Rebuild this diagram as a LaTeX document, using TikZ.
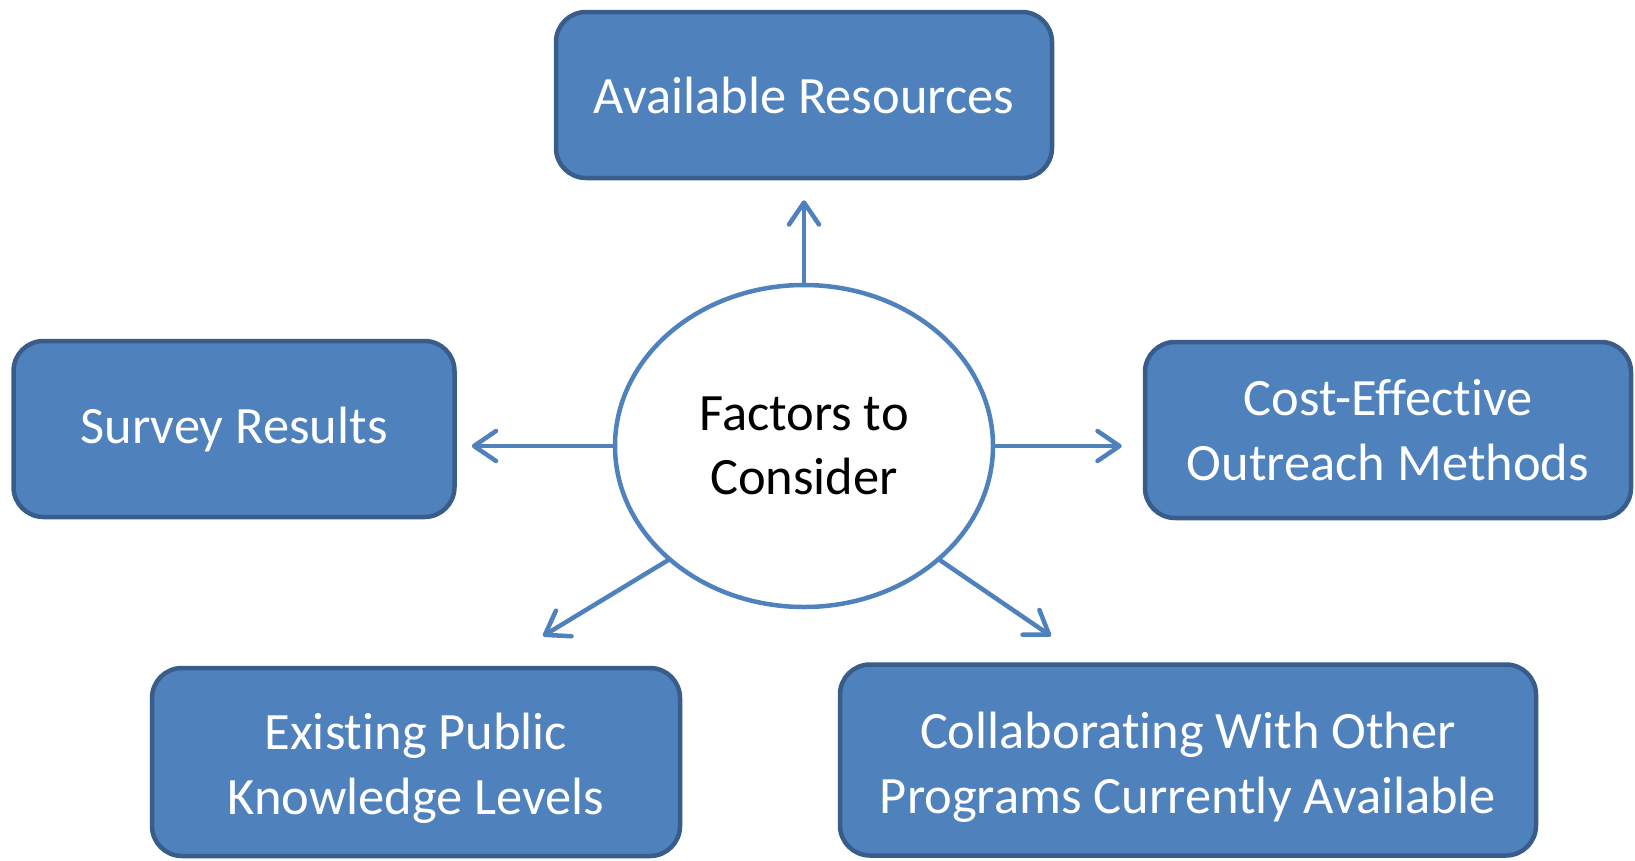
\documentclass[tikz,border=0pt]{standalone}
\usepackage{fontspec}
\setmainfont{Carlito}[Ligatures={NoCommon,NoRequired,NoContextual}, RawFeature={-liga;-clig;-calt;-rlig}]
\usetikzlibrary{shapes.geometric,arrows.meta}
\definecolor{boxfill}{HTML}{4F81BD}
\definecolor{boxline}{HTML}{385D8A}
\newcommand{\twolines}[3]{\raisebox{#1}[\height][\depth]{\begin{tabular}{@{}c@{}}#2\\#3\end{tabular}}}
\begin{document}
\begin{tikzpicture}[x=1pt,y=-1pt,
  factorbox/.style={draw=boxline, fill=boxfill, line width=4.5pt, rounded corners=30pt,
    inner sep=0pt, align=center, text=white, font=\fontsize{52.5}{64.5}\selectfont},
  hub/.style={draw=boxfill, fill=white, ellipse, line width=4.5pt, inner sep=0pt,
    minimum width=378pt, minimum height=322pt, align=center, text=black,
    font=\fontsize{52.5}{64.5}\selectfont},
  link/.style={draw=boxfill, line width=4.5pt, line cap=round,
    -{Straight Barb[length=22pt,width=30pt,line cap=round,line join=round]}}]
\useasboundingbox (0,0) rectangle (1635,860);
\node[factorbox, minimum width=496pt, minimum height=166pt] (res) at (804,95) {Available Resources};
\node[factorbox, minimum width=441pt, minimum height=176pt] (survey) at (234,429) {Survey Results};
\node[factorbox, minimum width=486pt, minimum height=176pt] (cost) at (1388,430) {Cost-Effective\\Outreach Methods};
\node[factorbox, minimum width=528pt, minimum height=188pt] (exist) at (416,762) {\twolines{-7pt}{Existing Public}{Knowledge Levels}};
\node[factorbox, minimum width=696pt, minimum height=191pt] (collab) at (1188,760) {\twolines{-8pt}{Collaborating With Other}{Programs Currently Available}};
\node[hub] (ell) at (804,446) {Factors to\\Consider};
\coordinate (lltip) at (543,636);
\coordinate (lrtip) at (1051,636);
\draw[link, shorten >=20pt] (ell.north) -- (res);
\draw[link, shorten >=15pt] (ell.west) -- (ell.west -| survey.east);
\draw[link, shorten >=21pt] (ell.east) -- (ell.east -| cost.west);
\draw[link] (ell.220) -- (lltip);
\draw[link] (ell.320) -- (lrtip);
\end{tikzpicture}
\end{document}
